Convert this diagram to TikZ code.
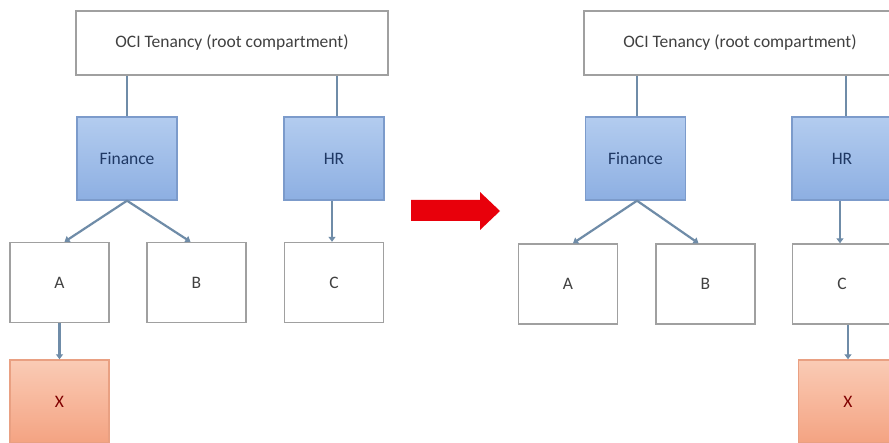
\documentclass[tikz,border=0pt]{standalone}
\usepackage{fontspec}
\setmainfont{Carlito}
\usetikzlibrary{arrows.meta}
\definecolor{boxline}{HTML}{A0A0A0}
\definecolor{txt}{HTML}{404040}
\definecolor{blueTop}{HTML}{B3CCEF}
\definecolor{blueBot}{HTML}{8DAFE2}
\definecolor{blueLine}{HTML}{7C9BCB}
\definecolor{navy}{HTML}{1F3864}
\definecolor{salTop}{HTML}{FACBB5}
\definecolor{salBot}{HTML}{F4A382}
\definecolor{salLine}{HTML}{E9A082}
\definecolor{conn}{HTML}{6F8CA8}
\definecolor{bigred}{HTML}{E8000B}
\tikzset{
  plainbox/.style={draw=boxline, line width=1.4pt, fill=white, text=txt, minimum width=99pt, minimum height=80pt, inner sep=0pt, font=\fontsize{17.5}{20}\selectfont},
  topbox/.style={plainbox, minimum width=312pt, minimum height=64pt},
  deptbox/.style={draw=blueLine, line width=1.4pt, top color=blueTop, bottom color=blueBot, text=navy, minimum width=100pt, minimum height=83pt, inner sep=0pt, font=\fontsize{17.5}{20}\selectfont},
  xbox/.style={draw=salLine, line width=1.4pt, top color=salTop, bottom color=salBot, text=red!50!black, minimum width=99pt, minimum height=83pt, inner sep=0pt, font=\fontsize{17.5}{20}\selectfont},
  link/.style={draw=conn, line width=1.3pt},
  arr/.style={draw=conn, line width=2.2pt, -{Triangle[width=7pt,length=5pt]}}
}
\begin{document}
\begin{tikzpicture}[x=1pt,y=-1pt]
\useasboundingbox (0,0) rectangle (889,443);
\fill[white] (0,0) rectangle (889,443);
\clip (0,0) rectangle (889,443);
% ---------- left ----------
\node[topbox] (tenL) at (232,43) {OCI Tenancy (root compartment)};
\node[deptbox] (finL) at (127,158.5) {Finance};
\node[deptbox] (hrL) at (334,158.5) {HR};
\node[plainbox] (aL) at (59.5,282.5) {A};
\node[plainbox] (bL) at (196.5,282.5) {B};
\node[plainbox] (cL) at (334,282.5) {C};
\node[xbox] (xL) at (59.5,401.5) {X};
\draw[link] (finL.north |- tenL.south) -- (finL.north);
\draw[link] ([xshift=3pt]hrL.north |- tenL.south) -- ([xshift=3pt]hrL.north);
\draw[arr] (finL.south) -- ([xshift=5pt]aL.north);
\draw[arr] (finL.south) -- ([xshift=-6pt]bL.north);
\draw[arr] ([xshift=-2pt]hrL.south) -- ([xshift=-2pt]cL.north);
\draw[arr] (aL.south) -- (xL.north);
% ---------- big arrow ----------
\fill[bigred] (411,200) -- (480,200) -- (480,192) -- (500,211) -- (480,230) -- (480,221) -- (411,221) -- cycle;
% ---------- right ----------
\node[topbox] (tenR) at (740,43) {OCI Tenancy (root compartment)};
\node[deptbox] (finR) at (635.5,158.5) {Finance};
\node[deptbox] (hrR) at (842,158.5) {HR};
\node[plainbox] (aR) at (568,284) {A};
\node[plainbox] (bR) at (705.5,284) {B};
\node[plainbox] (cR) at (842,284) {C};
\node[xbox] (xR) at (848,401.5) {X};
\draw[link] ([xshift=1.5pt]finR.north |- tenR.south) -- ([xshift=1.5pt]finR.north);
\draw[link] ([xshift=4pt]hrR.north |- tenR.south) -- ([xshift=4pt]hrR.north);
\draw[arr] ([xshift=1.5pt]finR.south) -- ([xshift=5pt]aR.north);
\draw[arr] ([xshift=1.5pt]finR.south) -- ([xshift=-7pt]bR.north);
\draw[arr] ([xshift=-2pt]hrR.south) -- ([xshift=-2pt]cR.north);
\draw[arr] (xR.north |- cR.south) -- (xR.north);
\end{tikzpicture}
\end{document}
